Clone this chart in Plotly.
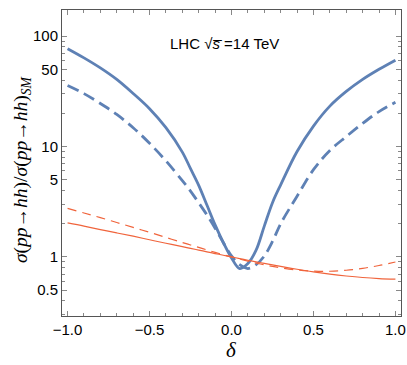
import plotly.graph_objects as go

delta = [-1.0, -0.9, -0.8, -0.7, -0.6, -0.5, -0.4, -0.3, -0.25, -0.2, -0.15, -0.1, -0.05,
         0.0, 0.05, 0.1, 0.15, 0.2, 0.25, 0.3, 0.4, 0.5, 0.6, 0.7, 0.8, 0.9, 1.0]

blue_solid = [76.9, 63.5, 51.5, 40.5, 30.2, 22, 14.8, 8.9, 6.3, 4.45, 2.95, 1.95, 1.35,
              0.98, 0.785, 0.87, 1.15, 1.9, 3.1, 4.5, 9.0, 15.3, 23.2, 31.5, 40.5, 50, 60.5]
blue_dash = [35.6, 30.1, 24.5, 19.5, 14.8, 10.7, 7.41, 4.9, 3.95, 3.09, 2.4, 1.82, 1.35,
             1.02, 0.85, 0.785, 0.85, 1.02, 1.38, 2.0, 3.55, 6.17, 9.2, 12.3, 16.2, 20.7, 25.1]
red_solid = [2.03, 1.90, 1.77, 1.65, 1.54, 1.43, 1.33, 1.24, 1.195, 1.153, 1.112, 1.073, 1.036,
             1.0, 0.966, 0.933, 0.902, 0.873, 0.846, 0.82, 0.773, 0.733, 0.699, 0.672, 0.651, 0.637, 0.63]
red_dash = [2.75, 2.50, 2.27, 2.05, 1.85, 1.67, 1.50, 1.35, 1.283, 1.22, 1.157, 1.1, 1.048,
            1.0, 0.956, 0.916, 0.88, 0.848, 0.82, 0.797, 0.762, 0.744, 0.742, 0.757, 0.788, 0.836, 0.90]

x_ticks = [-1.0, -0.5, 0.0, 0.5, 1.0]
y_ticks = [0.5, 1, 5, 10, 50, 100]
y_labels = ["0.5", "1", "5", "10", "50", "100"]

blue = "#5E81B5"
red = "#F0643C"

fig = go.Figure()
fig.add_trace(go.Scatter(x=delta, y=blue_solid, mode="lines",
                         line=dict(color=blue, width=2.8, shape="spline", smoothing=1.0)))
fig.add_trace(go.Scatter(x=delta, y=blue_dash, mode="lines",
                         line=dict(color=blue, width=2.8, dash="12px,6px", shape="spline", smoothing=1.0)))
fig.add_trace(go.Scatter(x=delta, y=red_solid, mode="lines",
                         line=dict(color=red, width=1.2, shape="spline")))
fig.add_trace(go.Scatter(x=delta, y=red_dash, mode="lines",
                         line=dict(color=red, width=1.2, dash="9px,6px", shape="spline")))

# minor ticks for the log axis
y_minor = []
for dec in [0.1, 1, 10, 100]:
    for m in [2, 3, 4, 6, 7, 8, 9]:
        y_minor.append(m * dec)

fig.update_layout(
    width=407, height=365,
    margin=dict(l=62, r=6, t=10, b=49),
    plot_bgcolor="white", paper_bgcolor="white",
    showlegend=False,
    font=dict(family="Liberation Sans, Arial", size=15, color="black"),
    annotations=[
        dict(x=-0.39, xref="x", xanchor="left", y=0.925, yref="paper",
             text="LHC √<i>s\u0305</i> =14 TeV", showarrow=False,
             font=dict(size=15, family="Liberation Sans, Arial")),
        dict(x=0.0, xref="x", y=-0.111, yref="paper", yanchor="middle",
             text="<i>δ</i>", showarrow=False,
             font=dict(family="Liberation Serif", size=21)),
        dict(x=-0.118, xref="paper", xanchor="center", y=0.477, yref="paper",
             textangle=-90, showarrow=False,
             text="<i>σ</i>(<i>pp</i>→<i>hh</i>)/<i>σ</i>(<i>pp</i>→<i>hh</i>)<sub><i>SM</i></sub>",
             font=dict(family="Liberation Serif", size=19.5)),
    ],
)

fig.update_xaxes(
    range=[-1.034, 1.034], tickvals=x_ticks, tickformat=".1f",
    ticks="inside", ticklen=5, tickcolor="#888", tickwidth=1,
    minor=dict(dtick=0.1, tick0=0, ticks="inside", ticklen=3, tickcolor="#888"),
    showline=True, linecolor="#555", linewidth=1, mirror="allticks",
    showgrid=False, zeroline=False, automargin=False,
)
fig.update_yaxes(
    type="log", range=[-0.535, 2.236], tickvals=y_ticks, ticktext=y_labels,
    ticks="inside", ticklen=5, tickcolor="#888", tickwidth=1,
    minor=dict(tickvals=y_minor, ticks="inside", ticklen=3, tickcolor="#888"),
    showline=True, linecolor="#555", linewidth=1, mirror="allticks",
    showgrid=False, zeroline=False, automargin=False,
)

# drop the default body margin so the figure fills the window
fig.write_html("out.html", config={"displayModeBar": False},
               post_script="document.body.style.margin='0';")
